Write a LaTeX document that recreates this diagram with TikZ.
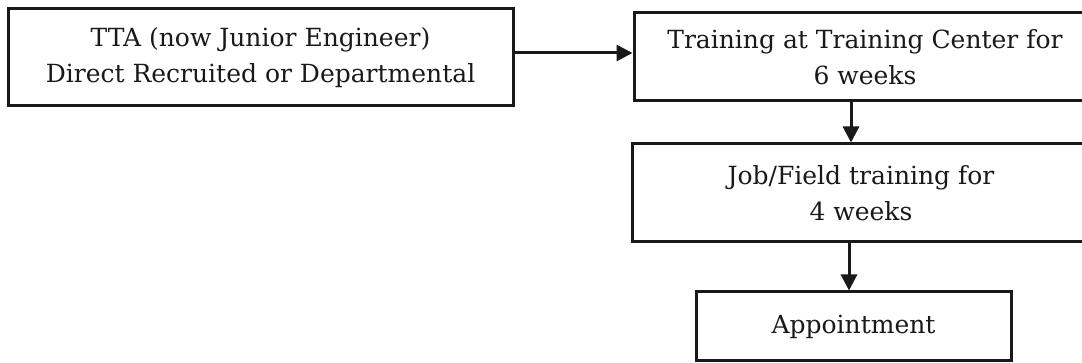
\documentclass[tikz,border=0pt]{standalone}
\usepackage{fontspec}
\setmainfont{DejaVu Serif}
\usetikzlibrary{arrows.meta}
\begin{document}
\begin{tikzpicture}[x=1pt,y=-1pt,
  box/.style={draw=black!90, line width=3pt, align=center, inner sep=0pt,
    font=\fontsize{25}{36}\selectfont, text=black!90},
  arr/.style={draw=black!90, line width=3pt, -{Triangle[length=16pt,width=16pt]}}]
\useasboundingbox (0,0) rectangle (1082,363);
\begin{scope}
\clip (0,0) rectangle (1082,363);
\node[box, minimum width=505pt, minimum height=97pt] (b1) at (260.5,57.5)
  {TTA (now Junior Engineer)\\Direct Recruited or Departmental};
\node[box, minimum width=462pt, minimum height=88pt] (b2) at (865,57)
  {Training at Training Center for\\6 weeks};
\node[box, minimum width=458pt, minimum height=98pt] (b3) at (861,193)
  {Job/Field training for\\4 weeks};
\node[box, minimum width=315pt, minimum height=69pt] (b4) at (853.5,326.5)
  {Appointment};
\end{scope}
\coordinate (a1) at (0,53);
\coordinate (a2) at (851,0);
\coordinate (a3) at (849,0);
\draw[arr] (b1.east |- a1) -- (b2.west |- a1);
\draw[arr] (a2 |- b2.south) -- (a2 |- b3.north);
\draw[arr] (a3 |- b3.south) -- (a3 |- b4.north);
\end{tikzpicture}
\end{document}
